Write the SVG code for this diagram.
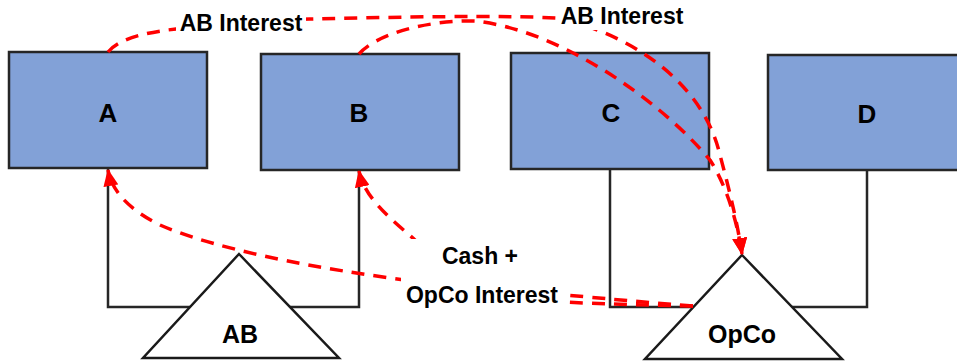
<svg xmlns="http://www.w3.org/2000/svg" width="957" height="362" viewBox="0 0 957 362">
  <style>
    .box { fill: #82A1D7; stroke: #262626; stroke-width: 2.5; }
    .tri { fill: #ffffff; stroke: #1a1a1a; stroke-width: 2.5; stroke-linejoin: miter; }
    .link { fill: none; stroke: #262626; stroke-width: 2.5; }
    .flow { fill: none; stroke: #ff0000; stroke-width: 3.5; stroke-dasharray: 13 9; }
    .node-label { font-family: "Liberation Sans", Arial, sans-serif; font-weight: bold; font-size: 26px; fill: #000; text-anchor: middle; }
    .own-label { font-family: "Liberation Sans", Arial, sans-serif; font-weight: bold; font-size: 25px; fill: #000; text-anchor: middle; }
    .flow-label { font-family: "Liberation Sans", Arial, sans-serif; font-weight: bold; font-size: 23px; fill: #000; text-anchor: middle; }
    .label-bg { fill: #ffffff; }
  </style>
  <defs>
    <marker id="arrow" viewBox="0 0 17 15" refX="16" refY="7.5" markerWidth="17" markerHeight="15" markerUnits="userSpaceOnUse" orient="auto">
      <path d="M0,0 L17,7.5 L0,15 Z" fill="#ff0000"/>
    </marker>
  </defs>

  <!-- ownership lines from the holding entities down to AB and OpCo -->
  <g id="ownership-links">
    <polyline class="link" points="108,168 108,307 190,307"/>
    <polyline class="link" points="359,170 359,307 290,307"/>
    <polyline class="link" points="610,169 610,307 693,307"/>
    <polyline class="link" points="867,170 867,307 792,307"/>
  </g>

  <g id="node-A">
    <rect class="box" x="9" y="52" width="198" height="116"/>
    <text class="node-label" x="108" y="122">A</text>
  </g>
  <g id="node-B">
    <rect class="box" x="261" y="54" width="198" height="116"/>
    <text class="node-label" x="359" y="122">B</text>
  </g>
  <g id="node-C">
    <rect class="box" x="511" y="53" width="198" height="116"/>
    <text class="node-label" x="611" y="122">C</text>
  </g>
  <g id="node-D">
    <rect class="box" x="768" y="55" width="200" height="115"/>
    <text class="node-label" x="867" y="123">D</text>
  </g>

  <g id="node-AB">
    <polygon class="tri" points="239,254 339,358 143,358"/>
    <text class="own-label" x="240" y="343">AB</text>
  </g>
  <g id="node-OpCo">
    <polygon class="tri" points="742,255 842,359 645,359"/>
    <text class="own-label" x="742" y="343">OpCo</text>
  </g>

  <!-- cash / interest flows -->
  <g id="flows">
    <path class="flow" marker-end="url(#arrow)" d="M108,52 C118,40 140,33 176,29 C230,23 270,20 310,19 C400,17 500,15 556,18 C610,28 700,70 720,155 C728,185 737,220 742,254"/>
    <path class="flow" marker-end="url(#arrow)" d="M359,54 C375,35 425,20 475,21 C560,30 660,100 710,160 C726,185 737,220 742,254"/>
    <path class="flow" marker-end="url(#arrow)" d="M693,306 C640,302 600,298 565,295 C420,287 240,260 160,225 C130,210 112,192 108,170"/>
    <path class="flow" marker-end="url(#arrow)" d="M693,306 C640,305 600,304 565,302 C500,298 440,262 415,240 C395,222 365,200 359,171"/>
  </g>

  <!-- flow labels on white backing -->
  <g id="label-ab-interest-1">
    <rect class="label-bg" x="176" y="6" width="130" height="28"/>
    <text class="flow-label" x="241" y="31">AB Interest</text>
  </g>
  <g id="label-ab-interest-2">
    <rect class="label-bg" x="556" y="1" width="134" height="29"/>
    <text class="flow-label" x="622" y="24">AB Interest</text>
  </g>
  <g id="label-cash-opco-interest">
    <rect class="label-bg" x="401" y="239" width="163" height="71"/>
    <text class="flow-label" x="480" y="264">Cash +</text>
    <text class="flow-label" x="482" y="303">OpCo Interest</text>
  </g>
</svg>
